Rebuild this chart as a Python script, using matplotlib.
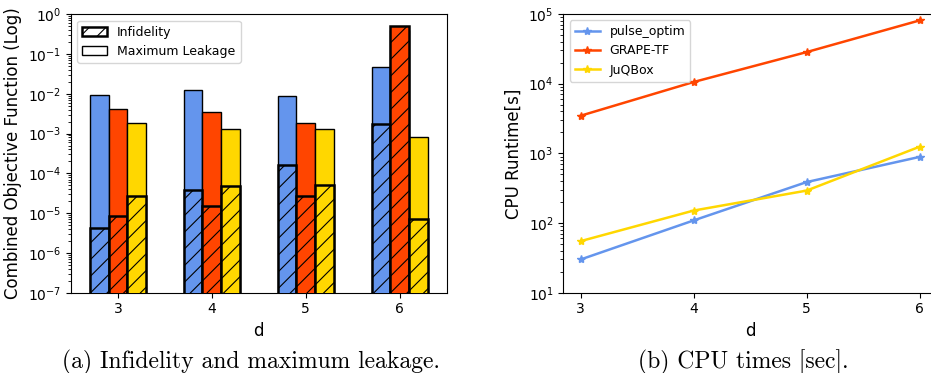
import matplotlib
matplotlib.use("Agg")
import matplotlib.pyplot as plt
import numpy as np
from matplotlib.patches import Patch

plt.rcParams["hatch.linewidth"] = 0.8

d_vals = [3, 4, 5, 6]
methods = ["pulse_optim", "GRAPE-TF", "JuQBox"]
colors = ["#6495ED", "#FF4500", "#FFD700"]

# Left panel: max leakage (solid) and infidelity (hatched)
leakage = {
    "pulse_optim": [9.5e-3, 1.23e-2, 8.9e-3, 4.7e-2],
    "GRAPE-TF": [4.1e-3, 3.4e-3, 1.8e-3, 0.4],
    "JuQBox": [1.9e-3, 1.3e-3, 1.3e-3, 8.4e-4],
}
infidelity = {
    "pulse_optim": [4.3e-6, 3.9e-5, 1.6e-4, 1.7e-3],
    "GRAPE-TF": [8.7e-6, 1.5e-5, 2.7e-5, 0.50],
    "JuQBox": [2.7e-5, 4.9e-5, 5.0e-5, 7.2e-6],
}

# Right panel: CPU runtimes [s]
runtime = {
    "pulse_optim": [30, 109, 387, 889],
    "GRAPE-TF": [3470, 10570, 28400, 80900],
    "JuQBox": [55, 151, 292, 1245],
}

W, H = 931, 373
fig = plt.figure(figsize=(W / 100, H / 100), dpi=100)

def box(l, r, t, b):
    return [l / W, 1 - b / H, (r - l) / W, (b - t) / H]

ax1 = fig.add_axes(box(71, 446.7, 14.3, 292.7))
ax2 = fig.add_axes(box(563.3, 937, 14.0, 292.7))

tfs = 10
lfs = 12
gfs = 9
width = 0.2
x = np.array(d_vals, dtype=float)
for i, m in enumerate(methods):
    xs = x + (i - 1) * width
    ax1.bar(xs, leakage[m], width=width, color=colors[i], edgecolor="black", linewidth=1.0, zorder=2)
for i, m in enumerate(methods):
    xs = x + (i - 1) * width
    ax1.bar(xs, infidelity[m], width=width, color=colors[i], edgecolor="black", linewidth=1.8,
            hatch="//", zorder=3)
ax1.set_yscale("log")
ax1.set_ylim(1e-7, 1)
ax1.set_xlim(2.5, 6.5)
ax1.set_xticks(d_vals)
ax1.set_xlabel("d", fontsize=lfs)
ax1.set_ylabel("Combined Objective Function (Log)", fontsize=lfs)
ax1.tick_params(labelsize=tfs)
handles = [Patch(facecolor="white", edgecolor="black", hatch="//", linewidth=1.8, label="Infidelity"),
           Patch(facecolor="white", edgecolor="black", linewidth=1.0, label="Maximum Leakage")]
ax1.legend(handles=handles, loc="upper left", fontsize=gfs)

for i, m in enumerate(methods):
    ax2.plot(d_vals, runtime[m], color=colors[i], marker="*", markersize=6, linewidth=1.8, label=m)
ax2.set_yscale("log")
ax2.set_ylim(10, 1e5)
ax2.set_xlim(2.846, 6.154)
ax2.set_xticks(d_vals)
ax2.set_xlabel("d", fontsize=lfs)
ax2.set_ylabel("CPU Runtime[s]", fontsize=lfs)
ax2.tick_params(labelsize=tfs)
ax2.legend(loc="upper left", fontsize=gfs)

cap_font = dict(family="cmr10", fontsize=17, ha="center", va="baseline")
fig.text(251 / W, 1 - 368 / H, "(a) Infidelity and maximum leakage.", **cap_font)
fig.text(743.7 / W, 1 - 368 / H, "(b) CPU times [sec].", **cap_font)

fig.savefig("out.png", dpi=100)
